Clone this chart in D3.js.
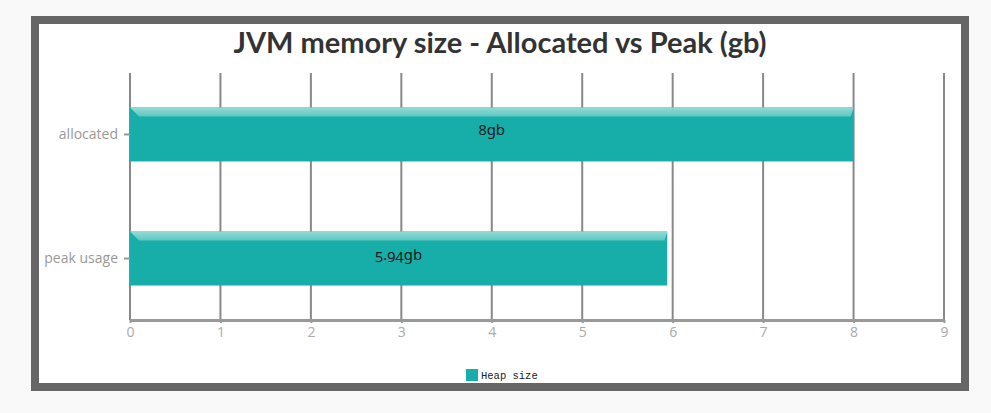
<!DOCTYPE html>
<html><head><meta charset="utf-8">
<script src="https://cdn.jsdelivr.net/npm/d3@7"></script>
<style>
html,body{margin:0;padding:0;background:#f9f9f9;}
svg{display:block;}
</style></head>
<body>
<svg id="chart" width="991" height="413"></svg>
<script>
const categories = ["allocated", "peak usage"];
const values = [8, 5.94];
const valueLabels = ["8gb", "5.94gb"];
const xTicks = [0,1,2,3,4,5,6,7,8,9];
const seriesName = "Heap size";
const title = "JVM memory size - Allocated vs Peak (gb)";

const svg = d3.select("#chart");

// frame
svg.append("rect").attr("x",31).attr("y",16).attr("width",938).attr("height",375).attr("fill","#666");
svg.append("rect").attr("x",39).attr("y",24).attr("width",922).attr("height",359).attr("fill","#fff");

const x = d3.scaleLinear().domain([0,9]).range([130,944]);
const y = d3.scaleBand().domain(categories).range([73,320]).paddingInner(0.565).paddingOuter(0.278);

const defs = svg.append("defs");
const g1 = defs.append("linearGradient").attr("id","hl").attr("x1",0).attr("y1",0).attr("x2",0).attr("y2",1);
g1.append("stop").attr("offset","0%").attr("stop-color","#93dbd5");
g1.append("stop").attr("offset","100%").attr("stop-color","#5ec7c0");

// title
svg.append("text").attr("x",500).attr("y",53).attr("text-anchor","middle")
  .attr("font-family","Lato, 'Open Sans', sans-serif").attr("font-weight","bold")
  .attr("font-size",29).attr("fill","#333").text(title);

// grid lines
svg.append("g").selectAll("line").data(xTicks).join("line")
  .attr("x1",d=>x(d)).attr("x2",d=>x(d)).attr("y1",73).attr("y2",320)
  .attr("stroke","#888").attr("stroke-width",2);

// bars
const bars = svg.append("g").selectAll("g").data(categories).join("g");
bars.append("rect")
  .attr("x",x(0)).attr("y",d=>y(d))
  .attr("width",(d,i)=>x(values[i])-x(0)).attr("height",y.bandwidth())
  .attr("fill","#17aea9");
const hs = 9;
bars.append("path")
  .attr("d",(d,i)=>{
    const x0=x(0), x1=x(values[i]), y0=y(d);
    return `M${x0},${y0}L${x1},${y0}L${x1-hs*0.3},${y0+hs}L${x0+hs},${y0+hs}Z`;
  })
  .attr("fill","url(#hl)");
bars.append("text")
  .attr("x",(d,i)=>(x(0)+x(values[i]))/2).attr("y",d=>y(d)+y.bandwidth()/2+1)
  .attr("text-anchor","middle").attr("font-family","'Noto Sans', sans-serif")
  .style("font-variant-numeric","oldstyle-nums")
  .attr("font-size",15).attr("fill","#1a1a1a").text((d,i)=>valueLabels[i]);

// y axis
const yAxis = svg.append("g").attr("transform",`translate(${x(0)},0)`)
  .call(d3.axisLeft(y).tickSize(6).tickPadding(6));
yAxis.select(".domain").remove();
yAxis.selectAll(".tick line").attr("stroke","#999").attr("stroke-width",2);
yAxis.selectAll(".tick text").attr("fill","#999").attr("font-size",14)
  .attr("font-family","'Open Sans', sans-serif");

// x axis
const xAxis = svg.append("g").attr("transform","translate(0,320)")
  .call(d3.axisBottom(x).tickValues(xTicks).tickSize(3).tickPadding(4).tickSizeOuter(0));
xAxis.select(".domain").attr("stroke","#999").attr("stroke-width",3);
xAxis.selectAll(".tick line").attr("stroke","#999").attr("stroke-width",2);
xAxis.selectAll(".tick text").attr("fill","#aaa").attr("font-size",14)
  .attr("font-family","'Open Sans', sans-serif");

// legend
svg.append("rect").attr("x",466).attr("y",369).attr("width",12).attr("height",12).attr("fill","#17aea9");
svg.append("text").attr("x",481).attr("y",379).attr("font-family","'Liberation Mono', 'DejaVu Sans Mono', monospace")
  .attr("font-size",10.5).attr("fill","#222").text(seriesName);
</script>
</body></html>
